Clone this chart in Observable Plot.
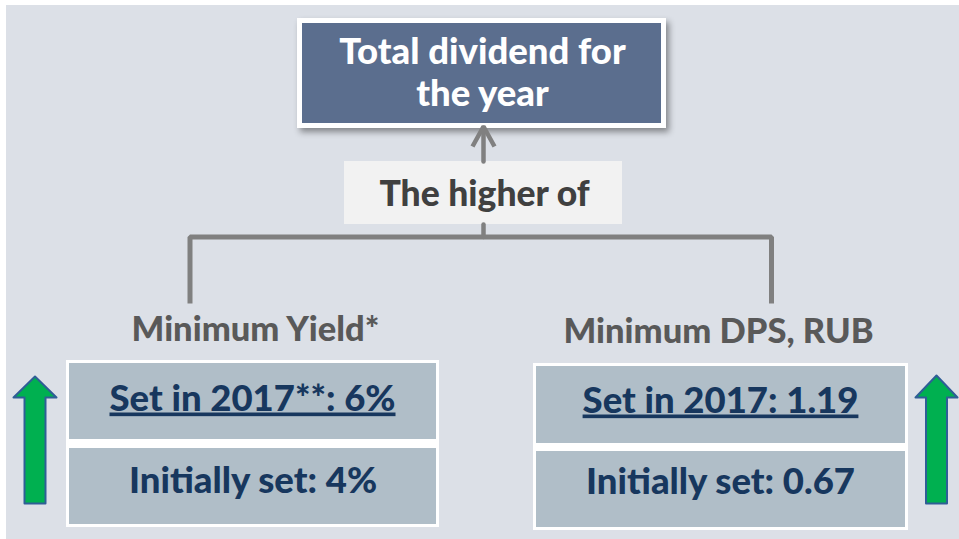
<!DOCTYPE html>
<html>
<head>
<meta charset="utf-8">
<script src="https://cdn.jsdelivr.net/npm/d3@7"></script>
<script src="https://cdn.jsdelivr.net/npm/@observablehq/plot@0.6"></script>
<style>
  html, body { margin: 0; padding: 0; background: #ffffff; }
  #chart svg { display: block; }
</style>
</head>
<body>
<div id="chart"></div>
<script>
// ---- Content (text values of the diagram) ----
const headline = ["Total dividend for", "the year"];
const connectorLabel = ["The higher of"];
const criteria = ["Minimum Yield*", "Minimum DPS, RUB"];
const setIn2017 = ["Set in 2017**: 6%", "Set in 2017: 1.19"];
const initiallySet = ["Initially set: 4%", "Initially set: 0.67"];

// ---- Layout (diagram geometry in pixel units of the 959x539 canvas) ----
const W = 959, H = 539;
const colLeft = {cx: 252, x1: 66, x2: 439, top: 360, split1: 439, split2: 448, bottom: 527, lineX: 189.5, arrowX: 34.5, textY: 0};
const colRight = {cx: 720, x1: 533, x2: 908, top: 363, split1: 443, split2: 451, bottom: 530, lineX: 771, arrowX: 936, textY: 2};
const cols = [colLeft, colRight];
const busY = 236.5, stubTop = 303, centerX = 483;

const panel = [{x1: 6, x2: W, y1: 5, y2: H}];
const titleBox = {x1: 297, x2: 666, y1: 18, y2: 128};
const higherBox = {x1: 344, x2: 622, y1: 161, y2: 224};

const titleFrame = [{x1: titleBox.x1, x2: titleBox.x2, y1: titleBox.y1, y2: titleBox.y2}];
const valueFrames = cols.map(c => ({x1: c.x1, x2: c.x2, y1: c.top, y2: c.bottom}));
const titleInner = [{x1: titleBox.x1 + 5, x2: titleBox.x2 - 5, y1: titleBox.y1 + 5, y2: titleBox.y2 - 5}];
const valueCells = cols.flatMap(c => [
  {x1: c.x1 + 3, x2: c.x2 - 3, y1: c.top + 3, y2: c.split1},
  {x1: c.x1 + 3, x2: c.x2 - 3, y1: c.split2, y2: c.bottom - 3}
]);

// connector polyline
const bus = [
  {x: colLeft.lineX, y: stubTop}, {x: colLeft.lineX, y: busY},
  {x: colRight.lineX, y: busY}, {x: colRight.lineX, y: stubTop}
];
const stem = [{x: centerX, y: higherBox.y2}, {x: centerX, y: busY}];
const upShaft = [{x: centerX, y: higherBox.y1}, {x: centerX, y: 127}];
const upHead = [{x: centerX - 11, y: 146}, {x: centerX, y: 126}, {x: centerX + 11, y: 146}];

// green block arrows
function blockArrow(id, cx, tip, head, bottom, hw, sw) {
  return [
    [cx, tip], [cx + hw, head], [cx + sw, head], [cx + sw, bottom],
    [cx - sw, bottom], [cx - sw, head], [cx - hw, head]
  ].map(([x, y]) => ({id, x, y}));
}
const greenArrows = [
  ...blockArrow("L", colLeft.arrowX, 376, 397, 503, 21.5, 10.5),
  ...blockArrow("R", colRight.arrowX, 375, 397, 503, 21, 10.5)
];

const FONT = "Lato, 'Open Sans', sans-serif";
const S = {title: 36.5, higher: 35.5, crit: 34.5, val: 36.5};

const titleText = headline.map((t, i) => ({t, x: 482, y: [63, 105][i] - 0.32 * S.title}));
const higherText = connectorLabel.map(t => ({t, x: 484, y: 205 - 0.32 * S.higher}));
const criteriaText = criteria.map((t, i) => ({t, x: [255, 718][i], y: [340, 342][i] - 0.32 * S.crit}));
const setText = setIn2017.map((t, i) => ({t, x: cols[i].cx, y: 410 + cols[i].textY - 0.32 * S.val}));
const initText = initiallySet.map((t, i) => ({t, x: [252.5, 720][i], y: [492, 493][i] - 0.32 * S.val}));

const chart = Plot.plot({
  width: W,
  height: H,
  margin: 0,
  x: {domain: [0, W], range: [0, W], axis: null},
  y: {domain: [0, H], range: [0, H], axis: null},
  style: {background: "transparent", fontFamily: FONT},
  marks: [
    Plot.rect(panel, {x1: "x1", x2: "x2", y1: "y1", y2: "y2", fill: "#dce0e7"}),
    Plot.rect(titleFrame, {x1: "x1", x2: "x2", y1: "y1", y2: "y2", fill: "#ffffff", ariaDescription: "shadowed"}),
    Plot.rect(valueFrames, {x1: "x1", x2: "x2", y1: "y1", y2: "y2", fill: "#ffffff"}),
    Plot.rect(titleInner, {x1: "x1", x2: "x2", y1: "y1", y2: "y2", fill: "#5b6e8e"}),
    Plot.rect([higherBox], {x1: "x1", x2: "x2", y1: "y1", y2: "y2", fill: "#f2f2f2"}),
    Plot.rect(valueCells, {x1: "x1", x2: "x2", y1: "y1", y2: "y2", fill: "#b0bec8"}),
    Plot.line(bus, {x: "x", y: "y", stroke: "#808080", strokeWidth: 5, strokeLinejoin: "miter", strokeLinecap: "butt"}),
    Plot.line(stem, {x: "x", y: "y", stroke: "#808080", strokeWidth: 4.5}),
    Plot.line(upShaft, {x: "x", y: "y", stroke: "#808080", strokeWidth: 4.5}),
    Plot.line(upHead, {x: "x", y: "y", stroke: "#808080", strokeWidth: 4.5, strokeLinejoin: "miter", strokeLinecap: "butt"}),
    Plot.line(greenArrows, {x: "x", y: "y", z: "id", curve: "linear-closed", fill: "#00b050", stroke: "#2f5e96", strokeWidth: 2}),
    Plot.text(titleText, {x: "x", y: "y", text: "t", fill: "#ffffff", fontSize: S.title, fontWeight: 900}),
    Plot.text(higherText, {x: "x", y: "y", text: "t", fill: "#404040", fontSize: S.higher, fontWeight: 900}),
    Plot.text(criteriaText, {x: "x", y: "y", text: "t", fill: "#595959", fontSize: S.crit, fontWeight: 900}),
    Plot.text(setText, {x: "x", y: "y", text: "t", fill: "#17375e", fontSize: S.val, fontWeight: 900, ariaDescription: "underlined"}),
    Plot.text(initText, {x: "x", y: "y", text: "t", fill: "#17375e", fontSize: S.val, fontWeight: 900})
  ]
});

d3.select(chart).selectAll("g[aria-description=shadowed] rect")
  .style("filter", "drop-shadow(3px 4px 3px rgba(0,0,0,0.4))");
d3.select(chart).selectAll("g[aria-description=underlined] text")
  .style("text-decoration", "underline");

document.getElementById("chart").appendChild(chart);
</script>
</body>
</html>
